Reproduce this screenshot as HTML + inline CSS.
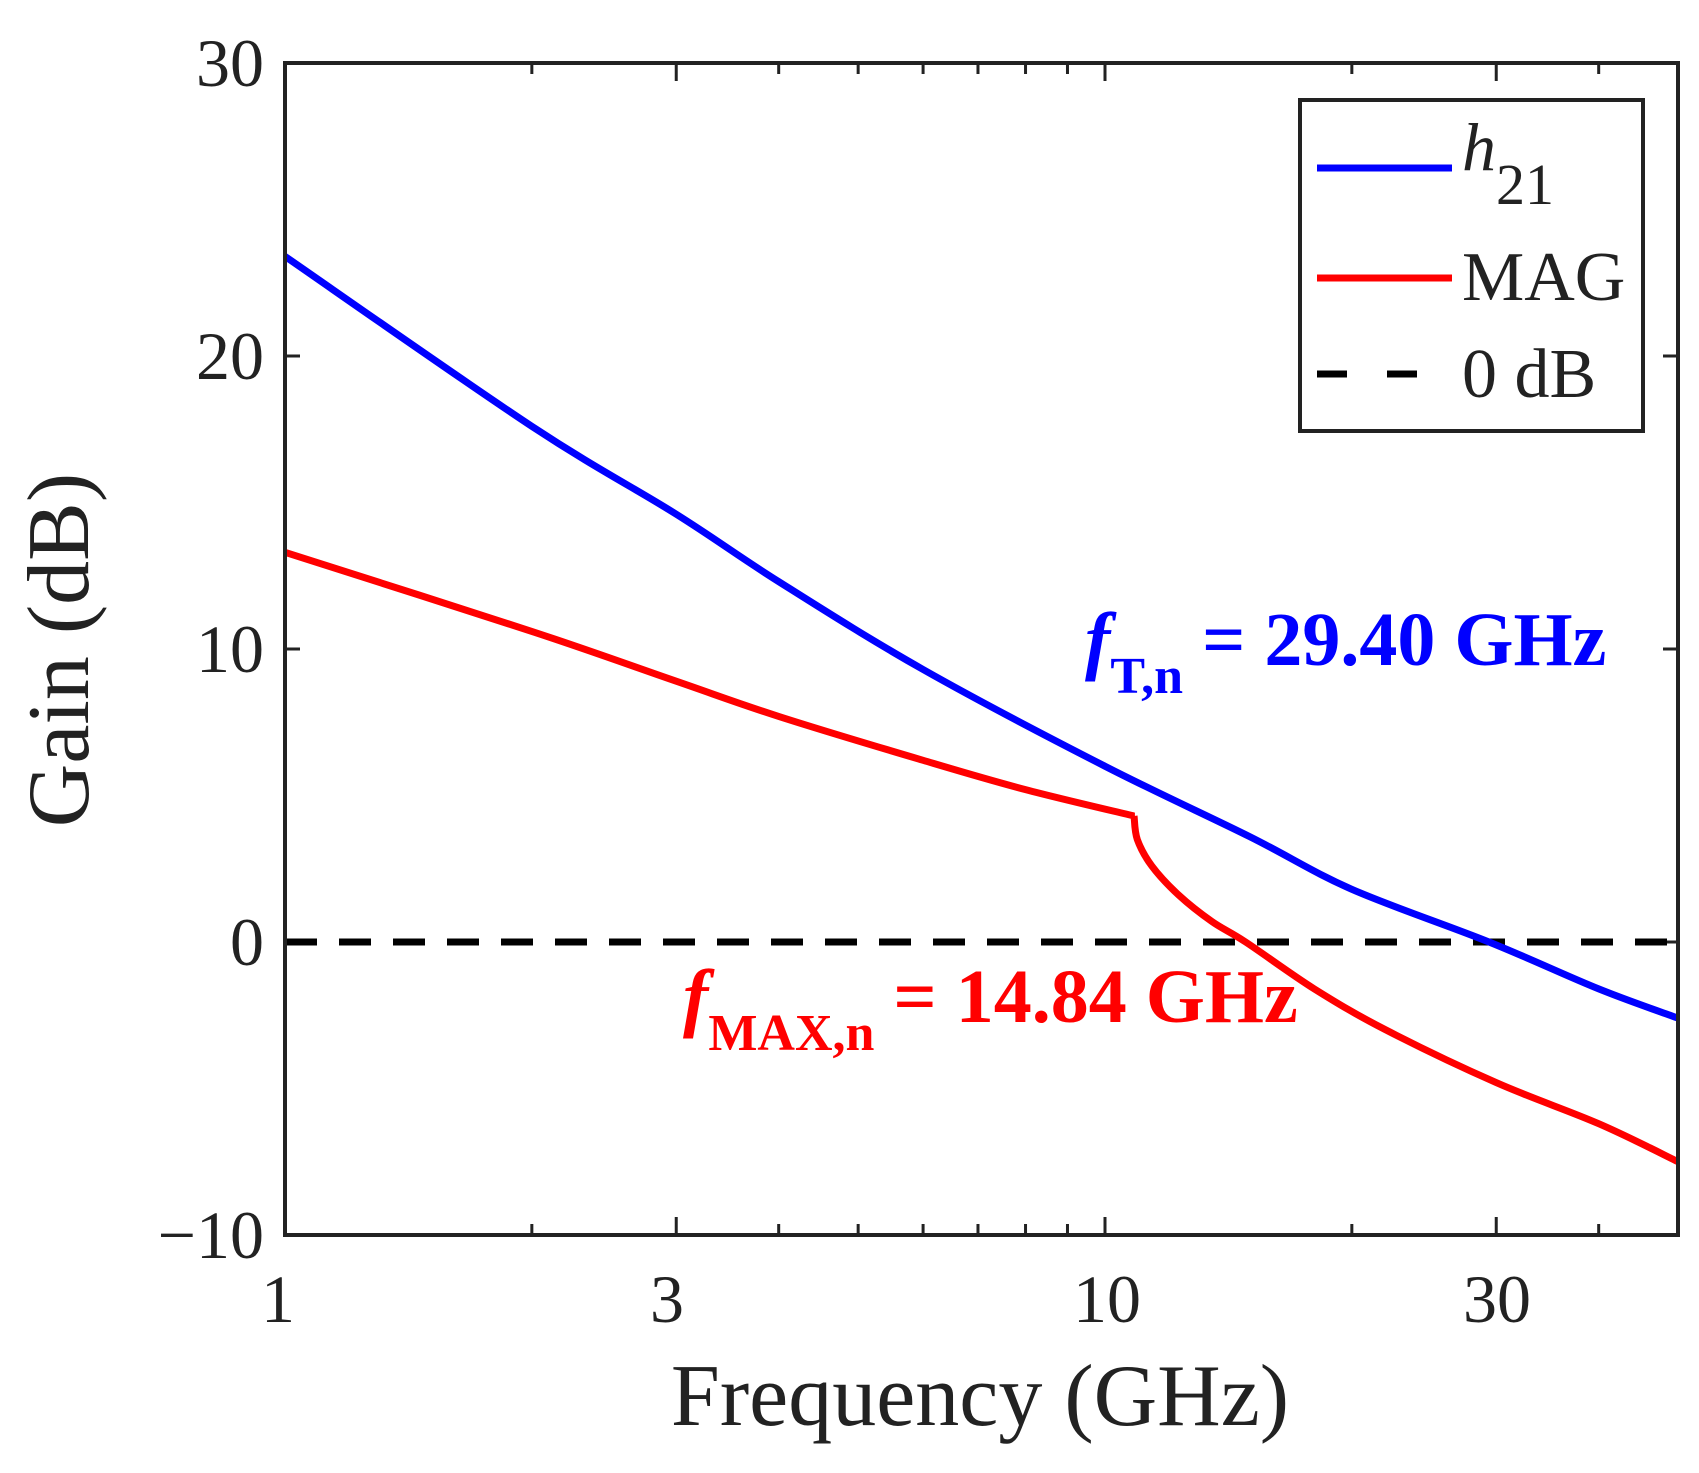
<!DOCTYPE html>
<html><head><meta charset="utf-8"><style>html,body{margin:0;padding:0;background:#fff}svg{display:block}</style></head>
<body>
<svg id="s" width="1699" height="1473" viewBox="0 0 1699 1473" xmlns="http://www.w3.org/2000/svg" font-family="Liberation Serif, serif">
<rect width="1699" height="1473" fill="#fff"/>
<g id="ticks" stroke="#222" stroke-width="3"></g>
<line x1="285" y1="942" x2="1678" y2="942" stroke="#000" stroke-width="7" stroke-dasharray="32,22"/>
<path id="h21" fill="none" stroke="#0000ff" stroke-width="7"/>
<path id="mag" fill="none" stroke="#ff0000" stroke-width="7"/>
<rect x="285" y="63" width="1393" height="1172" fill="none" stroke="#222" stroke-width="4"/>
<g font-size="68" fill="#222" text-anchor="end">
<text x="264" y="86">30</text><text x="264" y="379">20</text><text x="264" y="672">10</text><text x="264" y="965">0</text><text x="264" y="1258">−10</text>
</g>
<g font-size="68" fill="#222" text-anchor="middle">
<text x="278" y="1322">1</text><text x="667" y="1322">3</text><text x="1107" y="1322">10</text><text x="1497" y="1322">30</text>
</g>
<text x="980" y="1425" font-size="88" fill="#222" text-anchor="middle">Frequency (GHz)</text>
<text transform="translate(88,650) rotate(-90)" font-size="88" fill="#222" text-anchor="middle">Gain (dB)</text>
<rect x="1300" y="100" width="343" height="331" fill="#fff" stroke="#222" stroke-width="4"/>
<line x1="1317" y1="168" x2="1452" y2="168" stroke="#0000ff" stroke-width="7"/>
<line x1="1317" y1="278" x2="1452" y2="278" stroke="#ff0000" stroke-width="7"/>
<line x1="1317" y1="374" x2="1420" y2="374" stroke="#000" stroke-width="7" stroke-dasharray="30,40"/>
<text x="1462" y="170" font-size="68" font-style="italic" fill="#222">h<tspan font-style="normal" dy="34" font-size="58">21</tspan></text>
<text x="1462" y="300" font-size="70" fill="#222">MAG</text>
<text x="1462" y="397" font-size="70" fill="#222">0 dB</text>
<text x="1085" y="665" font-size="76" font-weight="bold" fill="#0000ff"><tspan font-style="italic">f</tspan><tspan font-size="52" dy="28">T,n</tspan><tspan dy="-28"> = 29.40 GHz</tspan></text>
<text x="683" y="1022" font-size="76" font-weight="bold" fill="#ff0000"><tspan font-style="italic">f</tspan><tspan font-size="52" dy="28">MAX,n</tspan><tspan dy="-28"> = 14.84 GHz</tspan></text>
</svg>
<script>
const X=f=>285+820*Math.log10(f), Y=d=>942-29.3*d;
function cr(pts){const P=pts.map(p=>[X(p[0]),Y(p[1])]);let d="M"+P[0][0]+","+P[0][1];
for(let i=0;i<P.length-1;i++){const p0=P[Math.max(i-1,0)],p1=P[i],p2=P[i+1],p3=P[Math.min(i+2,P.length-1)];
const c1=[p1[0]+(p2[0]-p0[0])/6,p1[1]+(p2[1]-p0[1])/6],c2=[p2[0]-(p3[0]-p1[0])/6,p2[1]-(p3[1]-p1[1])/6];
d+=`C${c1[0].toFixed(1)},${c1[1].toFixed(1)} ${c2[0].toFixed(1)},${c2[1].toFixed(1)} ${p2[0].toFixed(1)},${p2[1].toFixed(1)}`;}return d;}
const h=[[1,23.4],[2,17.6],[3,14.6],[4,12.3],[6,9.3],[10,6.0],[15,3.6],[20,1.8],[29.4,0],[40,-1.6],[50,-2.6]];
const m1=[[1,13.3],[2,10.6],[3,8.9],[4,7.7],[6,6.2],[8,5.2],[10.85,4.3]];
const m2=[[10.85,4.3],[10.95,3.5],[11.4,2.6],[12.3,1.6],[13.5,0.7],[14.84,0],[18,-1.6],[22,-3.0],[30,-4.8],[40,-6.2],[50,-7.5]];
document.getElementById('h21').setAttribute('d',cr(h));
document.getElementById('mag').setAttribute('d',cr(m1)+cr(m2).replace('M','L'));
let t="";
for(const v of [30,20,10,0,-10]){const y=Y(v);t+=`<line x1="285" y1="${y}" x2="300" y2="${y}"/><line x1="1663" y1="${y}" x2="1678" y2="${y}"/>`;}
for(const f of [2,3,4,5,6,7,8,9,10,20,30,40]){const x=X(f),L=[3,10,30].includes(f)?18:11;t+=`<line x1="${x}" y1="63" x2="${x}" y2="${63+L}"/><line x1="${x}" y1="1235" x2="${x}" y2="${1235-L}"/>`;}
document.getElementById('ticks').innerHTML=t;
</script>
</body></html>
